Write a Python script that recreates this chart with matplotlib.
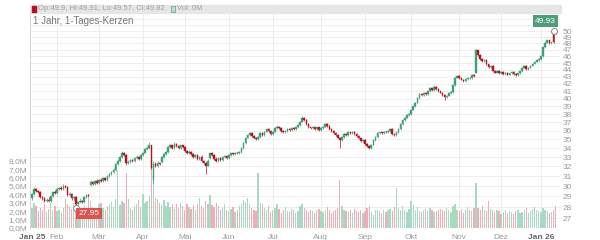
import matplotlib
matplotlib.use("Agg")  # headless
import matplotlib.pyplot as plt
from matplotlib.patches import Rectangle
from matplotlib.ticker import FixedLocator, NullLocator
import numpy as np
import pandas as pd

plt.rcParams["font.family"] = ["Liberation Sans", "DejaVu Sans"]

# ── data: 1 year of daily candles (Xetra trading days) ───────────────────────
HOLIDAYS = ["2025-04-18", "2025-04-21", "2025-05-01", "2025-12-24",
            "2025-12-25", "2025-12-26", "2025-12-31", "2026-01-01"]
MONTHS_DE = ["Jan", "Feb", "Mär", "Apr", "Mai", "Jun",
             "Jul", "Aug", "Sep", "Okt", "Nov", "Dez"]

opens = [
    28.8, 29.2, 29.7, 29.5, 29.4, 28.9,
    28.8, 28.6, 28.7, 28.6, 29.0, 29.4, 29.3, 29.7, 29.8, 29.7,
    30.0, 29.9, 29.1, 29.2, 28.8, 28.9, 28.3, 28.5, 28.6, 28.5,
    28.9, 29.1, 30.1, 30.4, 30.2, 30.5, 30.3, 30.6, 30.5, 30.8,
    30.6, 31.0, 31.2, 31.4, 31.6, 32.3, 32.6, 33.0, 33.5, 33.2,
    32.4, 32.5, 32.7, 32.6, 32.9, 33.0, 32.8, 33.2, 33.5, 33.9,
    34.0, 34.3, 30.6, 32.3, 32.0, 32.4, 32.5, 33.0, 33.3, 33.6,
    34.1, 34.3, 34.0, 34.5, 34.2, 34.0, 34.3, 34.1, 33.7, 33.4,
    33.6, 33.3, 33.0, 33.2, 32.8, 33.0, 32.6, 32.4, 32.1, 32.9,
    33.4, 33.2, 32.8, 32.6, 32.9, 32.7, 33.0, 33.1, 32.9, 33.2,
    33.4, 33.3, 33.5, 33.4, 33.6, 34.0, 34.6, 35.2, 35.5, 35.7,
    35.4, 35.2, 35.0, 35.3, 35.7, 35.5, 35.9, 36.2, 36.0, 35.6,
    35.9, 36.3, 36.5, 36.3, 36.0, 35.8, 36.0, 36.2, 36.1, 36.3,
    36.2, 36.4, 36.7, 37.1, 37.6, 37.3, 36.8, 36.4, 36.3, 36.5,
    36.2, 36.4, 36.1, 36.3, 36.5, 36.8, 36.6, 36.2, 36.0, 35.7,
    35.5, 35.2, 34.9, 35.3, 35.6, 35.5, 35.8, 35.7, 35.9, 35.6,
    35.4, 35.1, 34.8, 34.9, 34.5, 34.2, 34.0, 34.4, 34.9, 35.3,
    35.7, 35.8, 35.7, 35.9, 35.8, 36.0, 36.2, 35.6, 35.5, 35.8,
    36.2, 36.8, 37.3, 37.6, 37.9, 38.0, 38.6, 39.0, 39.5, 40.1,
    40.6, 40.5, 40.8, 40.6, 41.0, 41.4, 41.2, 41.6, 41.3, 41.0,
    40.8, 40.5, 40.2, 40.4, 40.7, 40.9, 41.8, 42.9, 43.1, 42.8,
    42.6, 42.4, 42.7, 42.9, 42.8, 43.3, 43.6, 46.9, 46.2, 45.6,
    45.3, 45.5, 44.8, 44.4, 44.6, 43.9, 43.6, 43.9, 43.5, 43.7,
    43.4, 43.6, 43.3, 43.5, 43.7, 43.4, 43.2, 43.5, 43.8, 44.3,
    44.6, 44.1, 44.3, 44.6, 44.9, 45.2, 45.4, 45.6, 46.0, 47.4,
    48.1, 48.5, 48.0, 49.5, 49.9,
]
closes = [
    29.2, 29.7, 29.5, 29.4, 28.9, 28.8,
    28.6, 28.7, 28.6, 29.0, 29.4, 29.3, 29.7, 29.8, 29.7, 30.0,
    29.9, 29.1, 29.2, 28.8, 28.9, 28.3, 28.5, 28.6, 28.5, 28.9,
    29.1, 29.0, 30.4, 30.2, 30.5, 30.3, 30.6, 30.5, 30.8, 30.6,
    31.0, 31.2, 31.4, 31.6, 32.3, 32.6, 33.0, 33.5, 33.2, 32.4,
    32.5, 32.7, 32.6, 32.9, 33.0, 32.8, 33.2, 33.5, 33.9, 34.0,
    34.4, 31.8, 32.3, 32.0, 32.4, 32.3, 33.0, 33.3, 33.6, 34.1,
    34.3, 34.0, 34.5, 34.2, 34.0, 34.3, 34.1, 33.7, 33.4, 33.6,
    33.3, 33.0, 33.2, 32.8, 33.0, 32.6, 32.4, 32.1, 32.6, 33.4,
    33.2, 32.8, 32.6, 32.9, 32.7, 33.0, 33.1, 32.9, 33.2, 33.4,
    33.3, 33.5, 33.4, 33.6, 34.0, 34.6, 35.2, 35.5, 35.7, 35.4,
    35.2, 35.0, 35.3, 35.7, 35.5, 35.9, 36.2, 36.0, 35.6, 35.9,
    36.3, 36.5, 36.3, 36.0, 35.8, 36.0, 36.2, 36.1, 36.3, 36.2,
    36.4, 36.7, 37.1, 37.6, 37.3, 36.8, 36.4, 36.3, 36.5, 36.2,
    36.4, 36.1, 36.3, 36.5, 36.8, 36.6, 36.2, 36.0, 35.7, 35.5,
    35.2, 34.9, 35.3, 35.6, 35.5, 35.8, 35.7, 35.9, 35.6, 35.4,
    35.1, 34.8, 34.9, 34.5, 34.2, 34.0, 34.4, 34.9, 35.3, 35.7,
    35.8, 35.7, 35.9, 35.8, 36.0, 36.2, 35.6, 35.5, 35.8, 36.2,
    36.8, 37.3, 37.6, 37.9, 38.0, 38.6, 39.0, 39.5, 40.1, 40.6,
    40.5, 40.8, 40.6, 41.0, 41.4, 41.2, 41.6, 41.3, 41.0, 40.8,
    40.5, 40.2, 40.4, 40.7, 40.9, 41.8, 42.9, 43.1, 42.8, 42.6,
    42.4, 42.7, 42.9, 42.8, 43.3, 43.1, 46.9, 46.2, 45.6, 45.3,
    45.5, 44.8, 44.4, 44.6, 43.9, 43.6, 43.9, 43.5, 43.7, 43.4,
    43.6, 43.3, 43.5, 43.7, 43.4, 43.2, 43.5, 43.8, 44.3, 44.6,
    44.1, 44.3, 44.6, 44.9, 45.2, 45.4, 45.6, 46.0, 47.4, 48.1,
    48.5, 48.0, 48.2, 48.2, 49.82,
]
highs = [
    29.3, 29.9, 29.8, 29.6, 29.5, 29.0,
    28.9, 28.8, 28.9, 29.1, 29.5, 29.6, 29.8, 29.9, 30.0, 30.2,
    30.1, 30.0, 29.4, 29.3, 29.0, 29.0, 28.6, 28.8, 28.7, 29.0,
    29.2, 29.2, 30.6, 30.5, 30.6, 30.7, 30.7, 30.8, 30.9, 30.9,
    31.1, 31.3, 31.5, 31.8, 32.4, 32.8, 33.1, 33.7, 33.6, 33.3,
    32.7, 32.8, 32.8, 33.0, 33.2, 33.1, 33.3, 33.6, 34.0, 34.2,
    34.7, 34.4, 32.6, 32.5, 32.6, 32.5, 33.1, 33.4, 33.7, 34.2,
    34.5, 34.4, 34.7, 34.6, 34.3, 34.4, 34.4, 34.2, 33.8, 33.8,
    33.7, 33.4, 33.3, 33.3, 33.1, 33.2, 32.7, 32.5, 32.8, 33.5,
    33.6, 33.3, 33.0, 33.0, 33.0, 33.1, 33.2, 33.2, 33.3, 33.5,
    33.5, 33.6, 33.6, 33.7, 34.1, 34.7, 35.3, 35.6, 35.9, 35.8,
    35.5, 35.3, 35.4, 35.8, 35.8, 36.0, 36.3, 36.3, 36.1, 36.0,
    36.4, 36.7, 36.6, 36.4, 36.1, 36.1, 36.3, 36.3, 36.4, 36.4,
    36.5, 36.8, 37.2, 37.8, 37.7, 37.4, 36.9, 36.5, 36.6, 36.6,
    36.5, 36.5, 36.4, 36.6, 36.9, 36.9, 36.7, 36.3, 36.1, 35.8,
    35.6, 35.3, 35.4, 35.7, 35.7, 35.9, 35.9, 36.0, 36.0, 35.7,
    35.5, 35.2, 35.0, 35.0, 34.6, 34.3, 34.5, 35.0, 35.4, 35.8,
    35.9, 35.9, 36.0, 36.0, 36.1, 36.3, 36.3, 35.7, 35.9, 36.3,
    36.9, 37.4, 37.7, 38.0, 38.2, 38.7, 39.1, 39.6, 40.2, 40.8,
    40.7, 40.9, 40.9, 41.1, 41.6, 41.5, 41.8, 41.7, 41.4, 41.1,
    40.9, 40.6, 40.5, 40.8, 41.0, 41.9, 43.0, 43.3, 43.2, 42.9,
    42.7, 42.8, 43.0, 43.0, 43.4, 43.4, 47.1, 47.0, 46.3, 45.7,
    45.6, 45.6, 44.9, 44.7, 44.7, 44.0, 44.0, 44.0, 43.8, 43.8,
    43.7, 43.7, 43.6, 43.8, 43.8, 43.5, 43.6, 43.9, 44.4, 44.7,
    44.7, 44.4, 44.7, 45.0, 45.3, 45.5, 45.7, 46.1, 47.5, 48.3,
    48.6, 48.6, 48.3, 49.93, 49.91,
]
lows = [
    28.7, 29.1, 29.4, 29.3, 28.8, 28.7,
    28.5, 28.5, 28.5, 28.5, 28.9, 29.2, 29.2, 29.6, 29.6, 29.6,
    29.8, 29.0, 29.0, 28.7, 28.7, 27.95, 28.2, 28.4, 28.4, 28.4,
    28.8, 28.9, 30.0, 30.1, 30.1, 30.2, 30.2, 30.4, 30.4, 30.5,
    30.5, 30.9, 31.1, 31.3, 31.5, 32.2, 32.5, 32.9, 33.1, 32.2,
    32.3, 32.4, 32.5, 32.5, 32.8, 32.7, 32.7, 33.1, 33.4, 33.8,
    33.9, 31.6, 30.2, 31.9, 31.9, 32.2, 32.4, 32.9, 33.2, 33.5,
    34.0, 33.9, 33.9, 34.1, 33.9, 33.9, 34.0, 33.6, 33.3, 33.3,
    33.2, 32.9, 32.9, 32.7, 32.7, 32.5, 32.3, 31.2, 32.0, 32.8,
    33.1, 32.7, 32.5, 32.5, 32.6, 32.6, 32.9, 32.8, 32.8, 33.1,
    33.2, 33.2, 33.3, 33.3, 33.5, 33.9, 34.5, 35.1, 35.4, 35.3,
    35.1, 34.9, 34.9, 35.2, 35.4, 35.4, 35.8, 35.9, 35.5, 35.5,
    35.8, 36.2, 36.2, 35.9, 35.7, 35.7, 35.9, 36.0, 36.0, 36.1,
    36.1, 36.3, 36.6, 37.0, 37.2, 36.7, 36.3, 36.2, 36.2, 36.1,
    36.1, 36.0, 36.0, 36.2, 36.4, 36.5, 36.1, 35.9, 35.6, 35.4,
    35.1, 34.0, 34.8, 35.2, 35.4, 35.4, 35.6, 35.6, 35.5, 35.3,
    35.0, 34.7, 34.7, 34.4, 34.1, 33.9, 33.9, 34.3, 34.8, 35.2,
    35.6, 35.6, 35.6, 35.7, 35.7, 35.9, 35.5, 35.4, 35.4, 35.7,
    36.1, 36.7, 37.2, 37.5, 37.8, 37.9, 38.5, 38.9, 39.4, 40.0,
    40.4, 40.4, 40.5, 40.5, 40.9, 41.1, 41.1, 41.2, 40.9, 40.7,
    40.4, 39.9, 40.1, 40.3, 40.6, 40.8, 41.7, 42.8, 42.7, 42.5,
    42.3, 42.3, 42.6, 42.7, 42.7, 43.0, 43.5, 46.0, 45.5, 45.2,
    45.2, 44.7, 44.3, 44.3, 43.8, 43.5, 43.5, 43.4, 43.4, 43.3,
    43.3, 43.2, 43.2, 43.4, 43.3, 43.1, 43.1, 43.4, 43.7, 44.2,
    44.0, 44.0, 44.2, 44.5, 44.8, 45.1, 45.3, 45.5, 45.9, 47.3,
    48.0, 47.9, 47.9, 48.1, 49.57,
]
volumes_m = [
    2.4, 3.0, 2.6, 2.0, 2.4, 2.2,
    2.8, 1.9, 2.3, 3.0, 2.1, 2.6, 2.0, 2.2, 1.8, 2.4,
    3.5, 2.9, 2.6, 2.3, 3.0, 3.3, 2.5, 2.1, 2.0, 2.7,
    2.4, 3.6, 3.2, 2.5, 2.3, 2.0, 2.8, 3.0, 2.4, 2.2,
    2.6, 2.9, 3.1, 2.5, 3.4, 6.9, 2.7, 3.2, 3.0, 6.6,
    3.5, 2.4, 2.2, 2.6, 2.8, 3.3, 2.5, 4.0, 3.0, 3.2,
    3.8, 6.8, 5.7, 3.6, 3.4, 3.0, 2.7, 3.3, 2.6, 3.1,
    2.5, 2.9, 2.3, 2.8, 2.4, 3.0, 2.6, 2.2, 2.8, 2.5,
    2.3, 2.7, 2.1, 2.9, 3.6, 2.6, 2.4, 3.2, 2.8, 3.9,
    2.7, 2.5, 3.0, 2.6, 2.2, 2.4, 2.9, 2.1, 2.0, 2.3,
    2.5, 1.9, 2.2, 2.6, 2.9, 3.3, 3.1, 3.6, 2.8, 2.4,
    2.2, 2.0, 6.6, 3.0, 2.8, 2.4, 2.1, 2.6, 1.9, 2.2,
    2.4, 2.9, 2.3, 1.8, 2.1, 2.5, 2.0, 1.9, 2.3, 2.2,
    1.8, 2.0, 2.6, 2.9, 2.4, 2.1, 1.9, 2.2, 2.0, 1.8,
    2.1, 2.3, 2.0, 1.9, 2.2, 2.5, 2.1, 1.8, 2.0, 2.2,
    2.4, 5.7, 2.6, 2.2, 2.0, 1.9, 2.1, 1.8, 2.3, 2.0,
    1.9, 2.2, 1.8, 2.0, 2.4, 2.6, 1.9, 1.6, 2.1, 2.2,
    2.0, 1.8, 2.2, 1.9, 2.1, 2.3, 2.0, 2.5, 4.8, 2.4,
    2.2, 2.6, 2.1, 1.9, 2.3, 3.2, 2.7, 2.2, 2.5, 2.0,
    1.9, 2.1, 2.3, 2.0, 2.4, 2.2, 1.9, 2.0, 2.1, 2.3,
    2.2, 2.0, 2.4, 2.1, 1.9, 2.6, 2.8, 2.2, 2.0, 2.3,
    1.8, 2.1, 2.5, 2.2, 2.0, 2.4, 5.3, 2.4, 2.1, 2.6,
    2.2, 2.0, 3.2, 2.3, 2.1, 1.9, 2.2, 2.0, 1.7, 1.9,
    2.1, 1.8, 2.0, 1.9, 1.7, 2.0, 2.2, 1.8, 1.9, 2.1,
    2.4, 1.8, 2.0, 2.3, 2.5, 2.2, 2.0, 1.9, 2.4, 2.2,
    2.0, 1.8, 1.9, 2.1, 2.6,
]

HEADER = "Op:49.9, Hi:49.91, Lo:49.57, Cl:49.82"
TITLE = "1 Jahr, 1-Tages-Kerzen"

UP, DOWN = "#3f9f76", "#b3131e"
VOL_UP, VOL_DOWN = "#a9d9c3", "#f2acb8"
GRID = "#ebebeb"
LABEL = "#9a9a9a"

# ── build ────────────────────────────────────────────────────────────────────
dates = pd.bdate_range("2025-01-16", "2026-01-13")
dates = dates[~dates.isin(pd.to_datetime(HOLIDAYS))]
o, c = np.array(opens), np.array(closes)
h, l = np.array(highs), np.array(lows)
v = np.array(volumes_m)
x = np.arange(len(dates))
up = c >= o

month_idx = [i for i in range(len(dates)) if i == 0 or dates[i].month != dates[i - 1].month]
month_lbl = [f"Jan {dates[i].strftime('%y')}" if dates[i].month == 1 else MONTHS_DE[dates[i].month - 1]
             for i in month_idx]

fig = plt.figure(figsize=(6, 2.4), dpi=100)
ax = fig.add_axes([30 / 600, 12 / 240, 530 / 600, 215 / 240])   # volume, left axis
axp = ax.twinx()                                                 # price, right axis

x_lo, x_hi = -0.9, len(dates) + 1.1
ax.set_xlim(x_lo, x_hi)
ax.set_ylim(0, 25.57)
axp.set_yscale("log")
axp.set_ylim(26.13, 53.06)

# grid (drawn on the volume axes so it stays behind the bars)
price_grid = np.arange(27, 54)
ax.hlines(price_grid, x_lo, x_hi, colors=GRID, linewidth=0.6,
          transform=axp.transData, zorder=0)
ax.vlines(month_idx[1:], 0, 25.57, colors=GRID, linewidth=0.6, zorder=0)

# volume
ax.bar(x, v, width=0.62, color=np.where(up, VOL_UP, VOL_DOWN), zorder=2)

# candles
col = np.where(up, UP, DOWN)
axp.vlines(x, l, h, colors=col, linewidth=0.5, zorder=3)
axp.bar(x, np.abs(c - o), bottom=np.minimum(o, c), width=0.75, color=col,
        edgecolor=col, linewidth=0.3, zorder=4)

# hi / lo markers
i_hi, i_lo = int(np.argmax(h)), int(np.argmin(l))
for i, val in ((i_hi, h[i_hi]), (i_lo, l[i_lo])):
    axp.plot(i, val, "o", ms=4.3, mfc="white", mec="#888888", mew=0.7, zorder=6, clip_on=False)
axp.annotate(f"{h[i_hi]:.2f}", (i_hi, h[i_hi]), xytext=(-6, 7.5), textcoords="offset points",
             ha="center", va="center", fontsize=6, color="white", zorder=7,
             bbox=dict(boxstyle="square,pad=0.25", fc="#4e9e7c", ec="none"))
axp.annotate(f"{l[i_lo]:.2f}", (i_lo, l[i_lo]), xytext=(9.5, -4.5), textcoords="offset points",
             ha="center", va="center", fontsize=6, color="white", zorder=7,
             bbox=dict(boxstyle="square,pad=0.25", fc="#d9534f", ec="none"))

# axes styling
for a in (ax, axp):
    for s in a.spines.values():
        s.set_visible(False)
ax.spines["left"].set_visible(True)
ax.spines["left"].set_color("#d0d0d0")
ax.spines["left"].set_linewidth(0.6)

ax.yaxis.set_major_locator(FixedLocator(range(0, 9)))
ax.set_yticklabels([f"{k},0M" for k in range(0, 9)])
axp.yaxis.set_major_locator(FixedLocator(range(27, 51)))
axp.yaxis.set_minor_locator(NullLocator())
axp.set_yticklabels([str(k) for k in range(27, 51)])
ax.set_xticks(month_idx)
ax.set_xticklabels(month_lbl)
ax.tick_params(axis="both", length=0, labelsize=6, labelcolor=LABEL)
ax.tick_params(axis="x", pad=4)
ax.tick_params(axis="y", pad=2)
for lbl in ax.get_xticklabels():
    if lbl.get_text().startswith("Jan"):
        lbl.set_color("#666666")
        lbl.set_fontweight("bold")
axp.tick_params(axis="y", which="both", length=0, labelsize=6, labelcolor=LABEL, pad=2)

# header strip and title
fig.patches.append(Rectangle((30 / 600, 1 - 13 / 240), 531 / 600, 8.5 / 240,
                             transform=fig.transFigure, color="#e6e6e6", zorder=0))
fig.patches.append(Rectangle((32 / 600, 1 - 11.5 / 240), 4 / 600, 5 / 240,
                             transform=fig.transFigure, color=DOWN, zorder=1))
fig.patches.append(Rectangle((171 / 600, 1 - 11.5 / 240), 4 / 600, 5 / 240,
                             transform=fig.transFigure, fc="#b9e0cd", ec="#4e9e7c",
                             linewidth=0.5, zorder=1))
fig.text(38 / 600, 1 - 9 / 240, HEADER, fontsize=5.5, color="#a0a0a0", va="center")
fig.text(177 / 600, 1 - 9 / 240, "Vol: 0M", fontsize=5.5, color="#a0a0a0", va="center")
fig.text(33 / 600, 1 - 21.5 / 240, TITLE, fontsize=7, color="#777777", va="center")

fig.savefig("out.png", dpi=100)
plt.close(fig)
